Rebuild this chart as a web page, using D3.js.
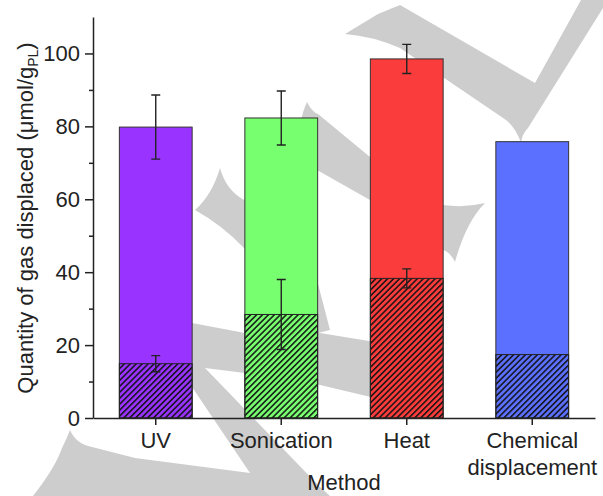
<!DOCTYPE html>
<html>
<head>
<meta charset="utf-8">
<script src="https://cdn.jsdelivr.net/npm/d3@7"></script>
<style>
  body { margin: 0; background: #fff; }
  text { font-family: Arial, "Liberation Sans", sans-serif; fill: #222; }
</style>
</head>
<body>
<div id="chart"></div>
<script>
// values
const methods = ["UV", "Sonication", "Heat", "Chemical\ndisplacement"];
const totalGas = [79.8, 82.3, 98.5, 75.8];
const totalErr = [8.8, 7.4, 4.0, null];
const hatchedGas = [14.9, 28.4, 38.3, 17.4];
const hatchedErr = [2.2, 9.6, 2.6, null];
const barColors = ["#9933ff", "#77ff70", "#fb3c3c", "#5b70ff"];
const yMajor = [0, 20, 40, 60, 80, 100];
const yMinor = [10, 30, 50, 70, 90];

// faint background watermark (decoration only)
const watermark = [
    "M345,34 L378,14 L400,5 L535,83 L581,0 L603,0 L603,8 L528,128 Q522,134 521,143 Q516,128 506,120 L400,48 Q372,36 345,34 Z",
    "M307,102 Q312,112 318,114 L370,157 L443,205 Q465,208 485,203 Q466,222 455,262 Q450,252 443,250 L370,200 L317,170 Q300,150 300,125 Q303,110 307,102 Z",
    "M220,168 Q226,190 244,200 L317,280 L330,330 L310,335 L244,248 Q222,225 195,210 Q212,195 220,168 Z",
    "M70,430 Q76,444 92,447 L135,458 L250,473 L192,387 L192,323 L245,333 L320,333 L375,342 L375,398 L320,385 L245,373 L205,368 L320,487 L330,496 L33,496 Q55,468 62,448 Q67,438 70,430 Z"
];

const W = 603, H = 496;
const svg = d3.select("#chart").append("svg")
    .attr("width", W)
    .attr("height", H);

svg.append("g").attr("id", "watermark")
    .selectAll("path")
    .data(watermark)
    .enter()
    .append("path")
    .attr("d", d => d)
    .attr("fill", "#cdcdcd");

const defs = svg.append("defs");
const pat = defs.append("pattern")
    .attr("id", "hatch")
    .attr("patternUnits", "userSpaceOnUse")
    .attr("width", 4.2)
    .attr("height", 4.2)
    .attr("patternTransform", "rotate(45)");
pat.append("line")
    .attr("x1", 0.8).attr("y1", 0)
    .attr("x2", 0.8).attr("y2", 4.2)
    .attr("stroke", "#111")
    .attr("stroke-width", 1.5);

const x = d3.scaleBand()
    .domain(methods)
    .range([93, 595])
    .paddingInner(0.42)
    .paddingOuter(0.21);

const y = d3.scaleLinear()
    .domain([0, 110])
    .range([418, 17]);

const rows = methods.map((m, i) => ({
    m: m, total: totalGas[i], tErr: totalErr[i],
    part: hatchedGas[i], pErr: hatchedErr[i], color: barColors[i]
}));

// full bars
svg.append("g").selectAll("rect")
    .data(rows)
    .enter()
    .append("rect")
    .attr("x", d => x(d.m))
    .attr("y", d => y(d.total))
    .attr("width", x.bandwidth())
    .attr("height", d => y(0) - y(d.total))
    .attr("fill", d => d.color)
    .attr("stroke", "#333")
    .attr("stroke-width", 1);

// hatched lower part
svg.append("g").selectAll("rect.hatch")
    .data(rows)
    .enter()
    .append("rect")
    .attr("class", "hatch")
    .attr("x", d => x(d.m))
    .attr("y", d => y(d.part))
    .attr("width", x.bandwidth())
    .attr("height", d => y(0) - y(d.part))
    .attr("fill", "url(#hatch)")
    .attr("stroke", "#222")
    .attr("stroke-width", 1);

// error bars
function drawErr(key, errKey) {
    const g = svg.append("g")
        .attr("stroke", "#222")
        .attr("stroke-width", 1.4)
        .attr("fill", "none");
    const data = rows.filter(d => d[errKey] != null);
    const cx = d => x(d.m) + x.bandwidth() / 2;
    g.selectAll("path")
        .data(data)
        .enter()
        .append("path")
        .attr("d", d => {
            const c = cx(d), t = y(d[key] + d[errKey]), b = y(d[key] - d[errKey]);
            return `M${c},${t}V${b}M${c - 4.5},${t}H${c + 4.5}M${c - 4.5},${b}H${c + 4.5}`;
        });
}
drawErr("total", "tErr");
drawErr("part", "pErr");

// y axis
svg.append("g")
    .attr("transform", "translate(93,0)")
    .call(d3.axisLeft(y).tickValues(yMajor).tickSize(8).tickSizeOuter(0).tickPadding(5))
    .call(g => g.selectAll("text").style("font-size", "22px").attr("fill", "#222"));
svg.append("g")
    .attr("transform", "translate(93,0)")
    .call(d3.axisLeft(y).tickValues(yMinor).tickSize(4).tickFormat(""))
    .call(g => g.select(".domain").remove());

// x axis
svg.append("g")
    .attr("transform", "translate(0,418)")
    .call(d3.axisBottom(x).tickSize(7).tickSizeOuter(0).tickFormat(""));

svg.selectAll(".domain, .tick line")
    .attr("stroke", "#222")
    .attr("stroke-width", 1.5);

svg.append("g").selectAll("text")
    .data(methods)
    .enter()
    .append("text")
    .attr("text-anchor", "middle")
    .style("font-size", "22px")
    .attr("transform", d => `translate(${x(d) + x.bandwidth() / 2},448)`)
    .each(function (d) {
        d.split("\n").forEach((line, k) => {
            d3.select(this).append("tspan")
                .attr("x", 0)
                .attr("y", k * 27)
                .text(line);
        });
    });

svg.append("text")
    .attr("x", 344)
    .attr("y", 490)
    .attr("text-anchor", "middle")
    .style("font-size", "22px")
    .text("Method");

const yl = svg.append("text")
    .attr("transform", "translate(33,218) rotate(-90)")
    .attr("text-anchor", "middle")
    .style("font-size", "22px");
yl.append("tspan").text("Quantity of gas displaced (\u03bcmol/g");
yl.append("tspan").attr("dy", 5).style("font-size", "14px").text("PL");
yl.append("tspan").attr("dy", -5).text(")");
</script>
</body>
</html>
